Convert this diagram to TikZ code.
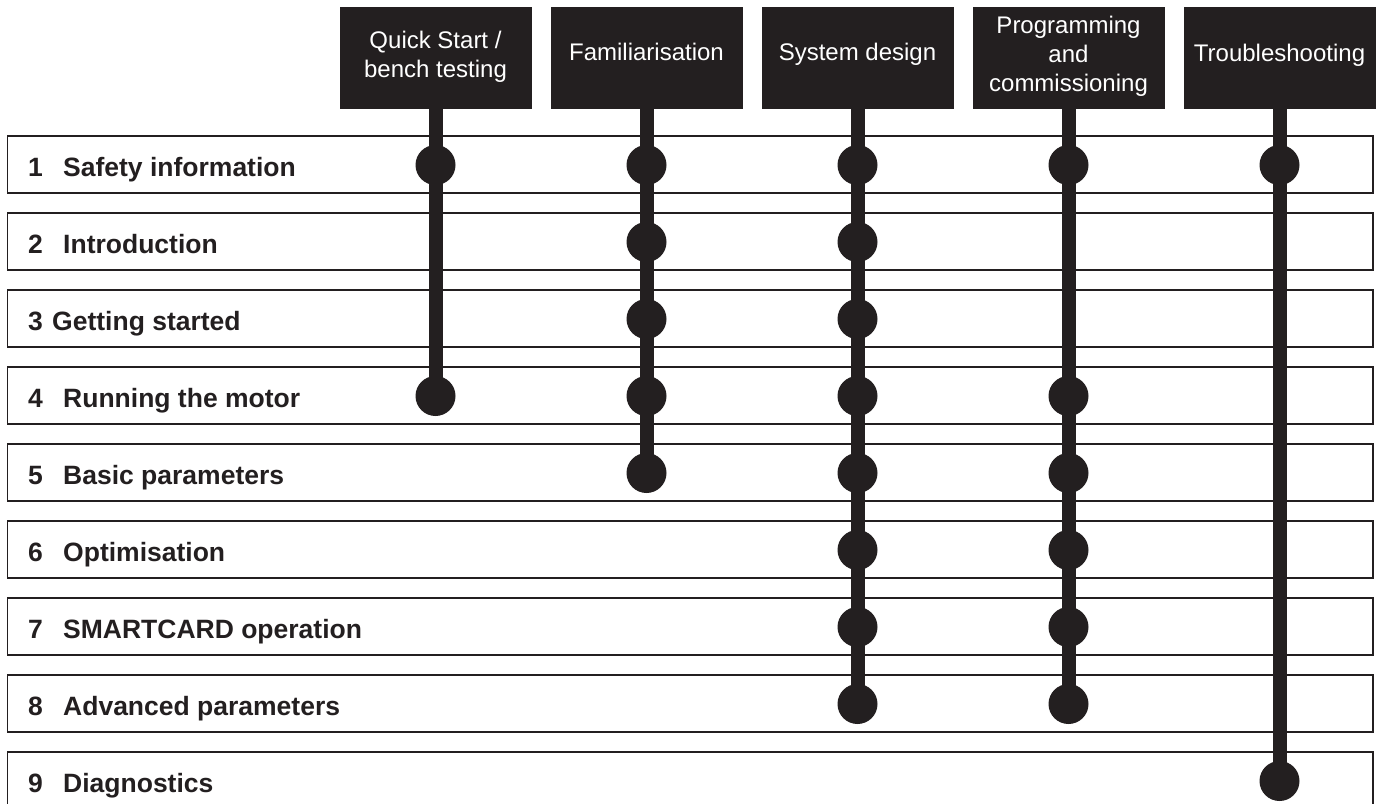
\documentclass[tikz,border=0pt]{standalone}
\usepackage{fontspec}
\setmainfont{Liberation Sans}
\definecolor{ink}{HTML}{231F20}
\begin{document}
\begin{tikzpicture}[x=1pt,y=-1pt,
  rowbox/.style={draw=ink, line width=1.4pt, minimum width=1365.5pt,
    minimum height=57pt, inner sep=0pt, outer sep=0pt, anchor=north west},
  head/.style={fill=ink, minimum width=192pt, minimum height=102pt,
    inner sep=0pt, outer sep=0pt, anchor=north},
  headtext/.style={text=white, align=center, inner sep=0pt,
    font=\fontsize{24}{29}\selectfont},
  rowtext/.style={text=ink, anchor=base west, inner sep=0pt,
    font=\fontsize{26.5}{30}\selectfont\bfseries},
  dot/.style={circle, fill=ink, minimum size=40pt, inner sep=0pt},
  stem/.style={draw=ink, line width=14pt}]
\useasboundingbox (0,0) rectangle (1380,803);
\clip (0,0) rectangle (1380,803);

% chapter rows
\foreach \i/\tx/\lab in {1/63/Safety information, 2/63/Introduction,
    3/52/Getting started, 4/63/Running the motor, 5/63/Basic parameters,
    6/63/Optimisation, 7/63/SMARTCARD operation, 8/63/Advanced parameters,
    9/63/Diagnostics}{
  \pgfmathsetmacro\yy{136+77*(\i-1)}
  \node[rowbox] (r\i) at (7.5,\yy) {};
  \node[rowtext] (n\i) at (28,\yy+40) {\i};
  \node[rowtext] (t\i) at (\tx,\yy+40) {\lab};
}

% column headers
\foreach \c/\ty/\lab in {1/57/{Quick Start /\\bench testing},
    2/51.5/{Familiarisation}, 3/54/{System design},
    4/56/{Programming\\and\\commissioning}, 5/55/{Troubleshooting}}{
  \pgfmathsetmacro\xx{435.5+211*(\c-1)}
  \node[head] (h\c) at (\xx,7) {};
  \node[headtext] (l\c) at (\xx,\ty) {\lab};
}

% reading paths: dots in the rows each user group needs
\foreach \c/\rows/\last in {1/{1,4}/4, 2/{1,2,3,4,5}/5,
    3/{1,2,3,4,5,6,7,8}/8, 4/{1,4,5,6,7,8}/8, 5/{1,9}/9}{
  \pgfmathsetmacro\xx{435.5+211*(\c-1)}
  \foreach \r in \rows{
    \pgfmathsetmacro\yy{165+77*(\r-1)}
    \node[dot] (d\c-\r) at (\xx,\yy) {};
  }
  \draw[stem] (h\c.south) -- (d\c-\last.center);
}
\end{tikzpicture}
\end{document}
